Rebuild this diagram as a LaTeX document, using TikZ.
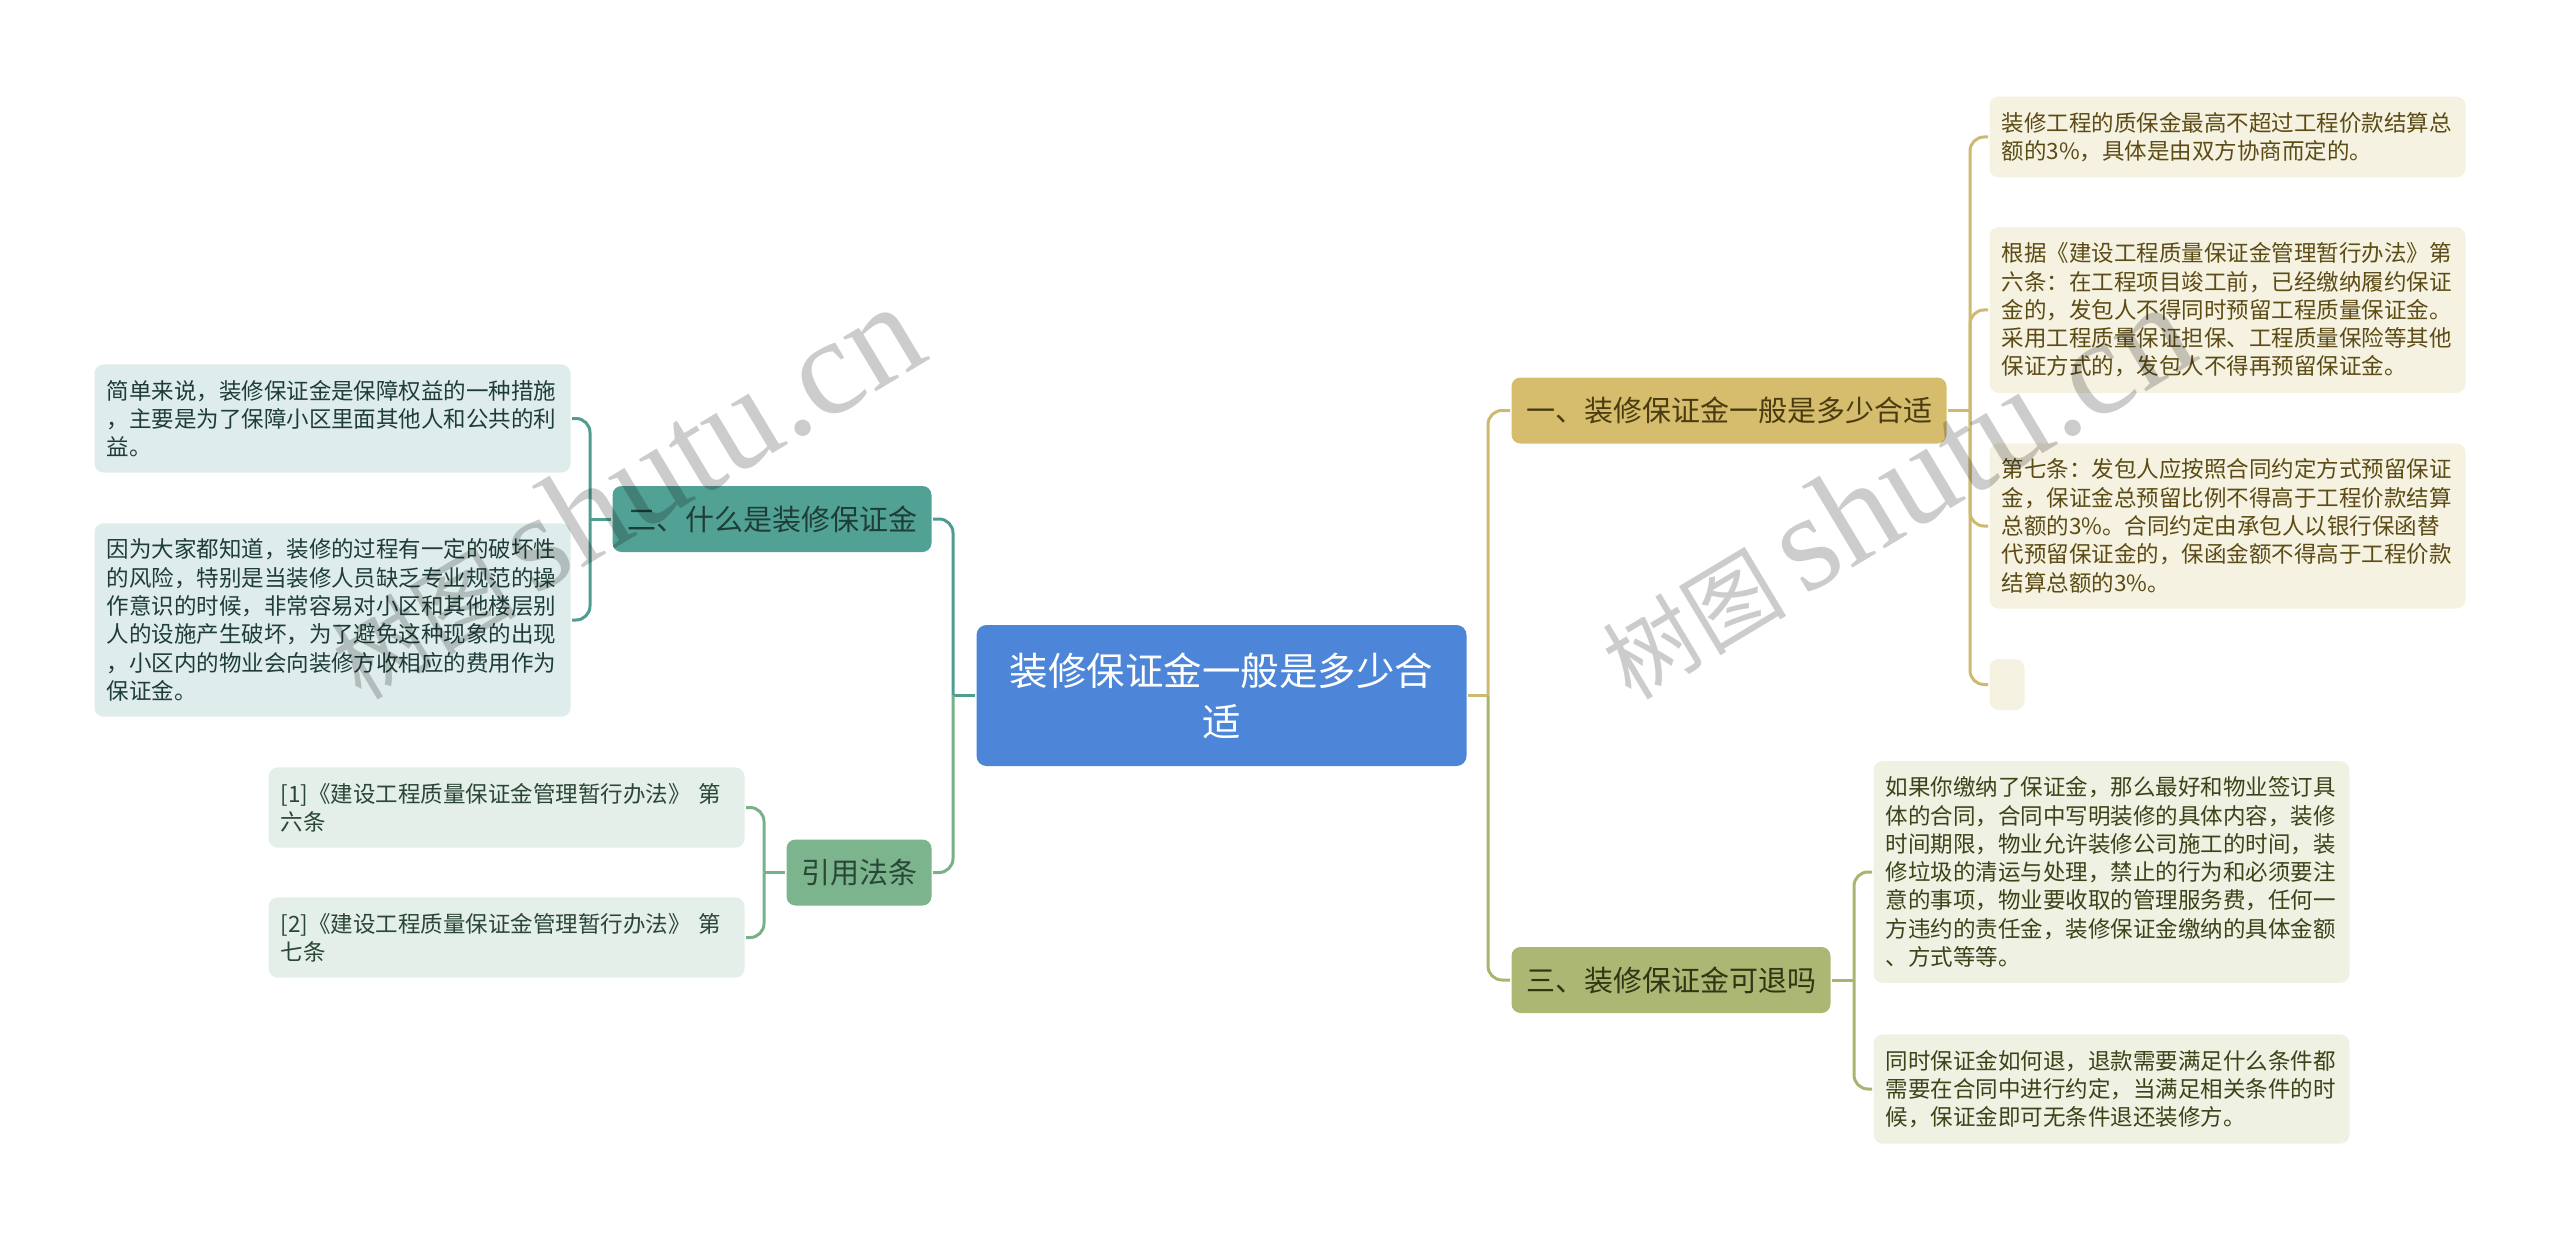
\documentclass[tikz,border=0pt]{standalone}
\usepackage{fontspec}
\setmainfont{Noto Sans CJK SC}
\newfontfamily\wmfont{Liberation Serif}
\usepackage{xcolor}
\usepackage{tikz}
\usetikzlibrary{calc,positioning}

\definecolor{rootblue}{HTML}{4D86D8}
\definecolor{goldfill}{HTML}{D5BD6D}
\definecolor{goldline}{HTML}{CDB970}
\definecolor{goldleaf}{HTML}{F5F2E1}
\definecolor{goldtext}{HTML}{5C4B14}
\definecolor{olivefill}{HTML}{ABB773}
\definecolor{oliveline}{HTML}{A9B46F}
\definecolor{oliveleaf}{HTML}{EFF1E3}
\definecolor{olivetext}{HTML}{3A4418}
\definecolor{tealfill}{HTML}{52A195}
\definecolor{tealline}{HTML}{4F9D90}
\definecolor{tealleaf}{HTML}{DEEDEB}
\definecolor{tealtext}{HTML}{1F3D37}
\definecolor{greenfill}{HTML}{7CB58D}
\definecolor{greenline}{HTML}{78B08A}
\definecolor{greenleaf}{HTML}{E3EFE8}
\definecolor{greentext}{HTML}{2A4636}

\begin{document}
\begin{tikzpicture}[x=1pt,y=-1pt,line width=3pt,
		leaf/.style={rounded corners=9pt,inner xsep=12pt,inner ysep=15.5pt,text width=452pt,align=left,font=\fontsize{22.5}{28.3}\selectfont},
		branch/.style={rounded corners=9pt,inner xsep=14.5pt,inner ysep=0pt,minimum height=66pt,font=\fontsize{29}{34}\selectfont},
		wm/.style={text=black,text opacity=0.2,inner sep=0pt,anchor=base west,rotate=31,font=\fontsize{92}{92}\selectfont}]
			\useasboundingbox (0,0) rectangle (2560,1241);
			
			\node[fill=rootblue,rounded corners=10pt,minimum width=490pt,minimum height=141pt,text width=440pt,align=center,text=white,font=\fontsize{38.5}{51}\selectfont] (root) at (1221.5,695.5) {装修保证金一般是多少合\\适};
			
			\node[branch,fill=goldfill,text=goldtext!80!black,anchor=west] (b1) at (1510,410.5) {一、装修保证金一般是多少合适};
			\node[branch,fill=olivefill,text=olivetext!80!black,anchor=west] (b3) at (1510,980) {三、装修保证金可退吗};
			\node[branch,fill=tealfill,text=tealtext,anchor=east] (b2) at (933,519) {二、什么是装修保证金};
			\node[branch,fill=greenfill,text=greentext,anchor=east] (b4) at (933,872.5) {引用法条};
			
			\node[leaf,fill=goldleaf,text=goldtext,anchor=west] (l1a) at (1988,137) {装修工程的质保金最高不超过工程价款结算总\\额的3\%，具体是由双方协商而定的。};
			\node[leaf,fill=goldleaf,text=goldtext,anchor=west] (l1b) at (1988,310) {根据《建设工程质量保证金管理暂行办法》第\\六条：在工程项目竣工前，已经缴纳履约保证\\金的，发包人不得同时预留工程质量保证金。\\采用工程质量保证担保、工程质量保险等其他\\保证方式的，发包人不得再预留保证金。};
			\node[leaf,fill=goldleaf,text=goldtext,anchor=west] (l1c) at (1988,526) {第七条：发包人应按照合同约定方式预留保证\\金，保证金总预留比例不得高于工程价款结算\\总额的3\%。合同约定由承包人以银行保函替\\代预留保证金的，保函金额不得高于工程价款\\结算总额的3\%。};
			\node[fill=goldleaf,rounded corners=9pt,minimum width=35pt,minimum height=51pt,inner sep=0pt,anchor=west] (l1d) at (1988,684.5) {};
			
			\node[leaf,fill=oliveleaf,text=olivetext,anchor=west] (l3a) at (1872,872) {如果你缴纳了保证金，那么最好和物业签订具\\体的合同，合同中写明装修的具体内容，装修\\时间期限，物业允许装修公司施工的时间，装\\修垃圾的清运与处理，禁止的行为和必须要注\\意的事项，物业要收取的管理服务费，任何一\\方违约的责任金，装修保证金缴纳的具体金额\\、方式等等。};
			\node[leaf,fill=oliveleaf,text=olivetext,anchor=west] (l3b) at (1872,1089) {同时保证金如何退，退款需要满足什么条件都\\需要在合同中进行约定，当满足相关条件的时\\候，保证金即可无条件退还装修方。};
			
			\node[leaf,fill=tealleaf,text=tealtext,anchor=east] (l2a) at (572,418.5) {简单来说，装修保证金是保障权益的一种措施\\，主要是为了保障小区里面其他人和公共的利\\益。};
			\node[leaf,fill=tealleaf,text=tealtext,anchor=east] (l2b) at (572,620) {因为大家都知道，装修的过程有一定的破坏性\\的风险，特别是当装修人员缺乏专业规范的操\\作意识的时候，非常容易对小区和其他楼层别\\人的设施产生破坏，为了避免这种现象的出现\\，小区内的物业会向装修方收相应的费用作为\\保证金。};
			
			\node[leaf,fill=greenleaf,text=greentext,anchor=east] (l4a) at (746,807.5) {[1]《建设工程质量保证金管理暂行办法》 第\\六条};
			\node[leaf,fill=greenleaf,text=greentext,anchor=east] (l4b) at (746,937.5) {[2]《建设工程质量保证金管理暂行办法》 第\\七条};
			
			\path (root.east) ++(20,0) coordinate (jr);
			\path (root.west) ++(-22,0) coordinate (jl);
			\path (b1.east) ++(22,0) coordinate (j1);
			\path (b3.east) ++(22,0) coordinate (j3);
			\path (b2.west) ++(-21,0) coordinate (j2);
			\path (b4.west) ++(-21,0) coordinate (j4);
			
			\draw[goldline] (root.east) -- (jr);
			\draw[goldline,rounded corners=14pt] (jr) |- (b1.west);
			\draw[oliveline,rounded corners=14pt] (jr) |- (b3.west);
			\draw[tealline] (root.west) -- (jl);
			\draw[tealline,rounded corners=14pt] (jl) |- (b2.east);
			\draw[greenline,rounded corners=14pt] (jl) |- (b4.east);
			
			\draw[goldline] (b1.east) -- (j1);
			\foreach \n in {l1a,l1b,l1c,l1d}
				\draw[goldline,rounded corners=14pt] (j1) |- (\n.west);
			\draw[oliveline] (b3.east) -- (j3);
			\foreach \n in {l3a,l3b}
				\draw[oliveline,rounded corners=14pt] (j3) |- (\n.west);
			\draw[tealline] (b2.west) -- (j2);
			\foreach \n in {l2a,l2b}
				\draw[tealline,rounded corners=14pt] (j2) |- (\n.east);
			\draw[greenline] (b4.west) -- (j4);
			\foreach \n in {l4a,l4b}
				\draw[greenline,rounded corners=14pt] (j4) |- (\n.east);
			
			\node[wm] (wm1) at (360,702) {树图\hspace{0.2em}{\wmfont\fontsize{138}{138}\selectfont shutu.cn}};
			\node[wm] (wm2) at (1630,702) {树图\hspace{0.2em}{\wmfont\fontsize{138}{138}\selectfont shutu.cn}};
		\end{tikzpicture}
\end{document}
